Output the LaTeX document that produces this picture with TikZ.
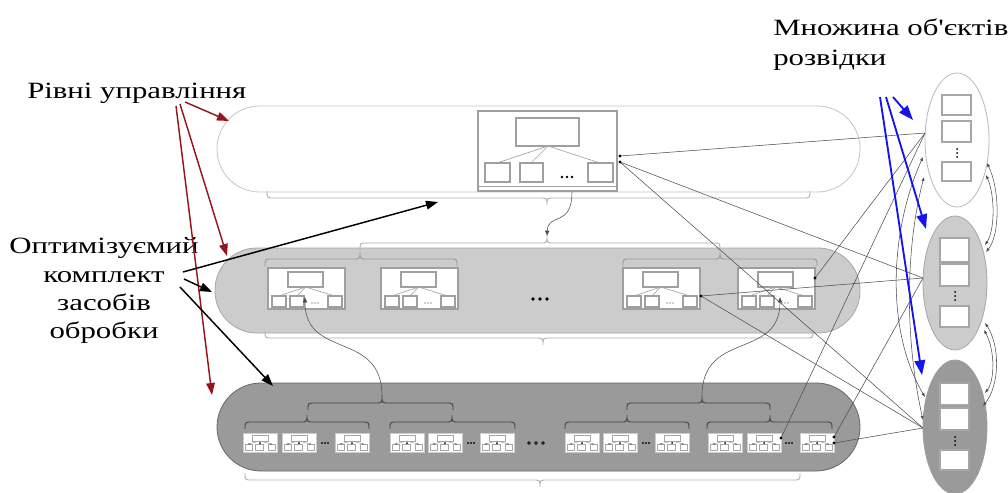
\documentclass[tikz,border=0pt]{standalone}
\usepackage{fontspec}
\setmainfont{Liberation Serif}
\newfontfamily\lblfont[FakeStretch=1.32]{Liberation Serif}
\usetikzlibrary{arrows.meta}
\definecolor{midfill}{HTML}{CCCCCC}
\definecolor{darkfill}{HTML}{9A9A9A}
\definecolor{arrred}{RGB}{150,22,28}
\definecolor{arrblue}{RGB}{20,20,235}
\tikzset{
  lbl/.style={font=\lblfont\fontsize{17.5}{21}\selectfont, inner sep=0pt},
  bandw/.style={draw=gray!45, line width=0.6pt, fill=white},
  bandm/.style={draw=gray!70, line width=0.6pt, fill=midfill},
  bandd/.style={draw=gray!80!black, line width=0.6pt, fill=darkfill},
  modframe/.style={draw=gray!75, line width=0.9pt, fill=white},
  inbox/.style={draw=gray!75, line width=0.9pt, fill=white},
  tree/.style={draw=gray!70, line width=0.5pt},
  brc/.style={draw=gray!65, line width=0.65pt},
  brcm/.style={draw=gray!80, line width=0.65pt},
  brcd/.style={draw=gray!50!black, line width=0.65pt},
  conn/.style={draw=gray!60!black, line width=0.4pt},
  tinytip/.style={{Latex[length=3pt,width=2.4pt]}-{Latex[length=3pt,width=2.4pt]}},
  curvtip/.style={-{Latex[length=4pt,width=3.5pt]}},
  redarr/.style={draw=arrred, line width=1.1pt, -{Triangle[length=9pt,width=6.5pt]}},
  blkarr/.style={draw=black, line width=1.1pt, -{Triangle[length=9pt,width=6.5pt]}},
  bluarr/.style={draw=arrblue, line width=1.4pt, -{Triangle[length=11pt,width=8pt]}},
  ellw/.style={draw=gray!55, line width=0.6pt, fill=white},
  ellm/.style={draw=gray!70, line width=0.6pt, fill=midfill},
  elld/.style={draw=gray!75, line width=0.6pt, fill=darkfill},
  ebox/.style={draw=gray!70, line width=0.9pt, fill=white},
  bmodframe/.style={draw=gray!40, line width=0.7pt, fill=white},
  bmodin/.style={draw=gray!70, line width=0.4pt},
}
% x1 x2 xm y s style
\newcommand\mybrace[6]{%
 \draw[#6] ({#1},{#4-(#5)*7}) .. controls ({#1},{#4}) .. ({#1+7},{#4}) -- ({#3-7},{#4})
  .. controls ({#3},{#4}) .. ({#3},{#4+(#5)*7}) .. controls ({#3},{#4}) .. ({#3+7},{#4})
  -- ({#2-7},{#4}) .. controls ({#2},{#4}) .. ({#2},{#4-(#5)*7});}
% middle module, top-left x y
\newcommand\midmod[2]{%
 \draw[modframe] (#1,#2) rectangle ++(77,41);
 \draw[inbox] ({#1+20},{#2+4}) rectangle ++(35,15);
 \draw[tree] ({#1+37.5},{#2+19}) -- ({#1+11},{#2+28});
 \draw[tree] ({#1+37.5},{#2+19}) -- ({#1+29},{#2+28});
 \draw[tree] ({#1+37.5},{#2+19}) -- ({#1+67},{#2+28});
 \draw[inbox] ({#1+4},{#2+28}) rectangle ++(14,11);
 \draw[inbox] ({#1+22},{#2+28}) rectangle ++(14,11);
 \draw[inbox] ({#1+60},{#2+28}) rectangle ++(14,11);
 \foreach \d in {44,47,50} \fill[gray!40!black] ({#1+\d},{#2+35}) circle (0.7);}
% bottom module, top-left x y
\newcommand\botmod[2]{%
 \draw[bmodframe] (#1,#2) rectangle ++(34,19);
 \draw[bmodin] ({#1+9},{#2+2}) rectangle ++(16,6);
 \draw[bmodin] ({#1+17},{#2+8}) -- ({#1+5},{#2+11});
 \draw[bmodin] ({#1+17},{#2+8}) -- ({#1+28},{#2+11});
 \draw[bmodin] ({#1+2},{#2+11}) rectangle ++(7,6);
 \draw[bmodin] ({#1+12},{#2+11}) rectangle ++(8,6);
 \draw[bmodin] ({#1+25},{#2+11}) rectangle ++(7,6);
 \fill[black] ({#1+17},{#2+10}) circle (1);
 \fill[black] ({#1+6},{#2+11}) circle (0.7);
 \fill[black] ({#1+28},{#2+11}) circle (0.7);}
\newcommand\tinydots[2]{\foreach \d in {-3,0,3} \fill[gray!40!black] ({#1+\d},{#2}) circle (0.8);}
\begin{document}
\begin{tikzpicture}[x=0.75pt,y=-0.75pt]
\useasboundingbox (0,0) rectangle (1008,493);

% ---------- bands ----------
\draw[bandw, rounded corners=32pt] (217,106) rectangle (860,192);
\draw[bandm, rounded corners=31.5pt] (215,248) rectangle (860,333);
\draw[bandd, rounded corners=33pt] (217,383) rectangle (860,471);

% ---------- braces ----------
\mybrace{267}{810}{547}{198}{1}{brc}
\mybrace{360}{720}{547}{243}{-1}{brc}
\mybrace{265}{457}{360}{259}{-1}{brcm}
\mybrace{623}{817}{720}{259}{-1}{brcm}
\mybrace{265}{813}{543}{338}{1}{brc}
\mybrace{308}{453}{382}{403}{-1}{brcd}
\mybrace{627}{770}{702}{403}{-1}{brcd}
\mybrace{245}{369}{307}{422}{-1}{brcd}
\mybrace{390}{515}{452}{422}{-1}{brcd}
\mybrace{565}{689}{627}{422}{-1}{brcd}
\mybrace{707}{832}{770}{422}{-1}{brcd}
\mybrace{245}{800}{540}{480}{1}{brc}

% ---------- top module ----------
\draw[modframe] (478,111) rectangle (617,191);
\draw[draw=gray!75, line width=0.6pt] (478,186) -- (617,186);
\draw[inbox] (516,118) rectangle (579,146);
\draw[tree] (548,146) -- (497,163);
\draw[tree] (548,146) -- (531,163);
\draw[tree] (548,146) -- (600,163);
\draw[inbox] (485,163) rectangle (510,182);
\draw[inbox] (520,163) rectangle (543,182);
\draw[inbox] (588,163) rectangle (613,182);
\foreach \d in {562,567,572} \fill[black] (\d,177) circle (1.4);

% ---------- middle modules ----------
\midmod{268}{268}
\midmod{381}{268}
\midmod{623}{268}
\midmod{738}{268}
\foreach \d in {533,540,547} \fill[black] (\d,299) circle (1.9);

% ---------- bottom modules ----------
\foreach \x in {243,282,335,390,428,480,565,603,655,708,747,800} \botmod{\x}{433}
\foreach \x in {325,471,646,789} \tinydots{\x}{443}
\foreach \d in {529,536,543} \fill[gray!30!black] (\d,443) circle (1.1);

% ---------- ellipses ----------
\draw[ellw] (957,140) ellipse [x radius=32, y radius=67];
\draw[ellm] (955,283) ellipse [x radius=32, y radius=67];
\draw[elld] (955,427) ellipse [x radius=32, y radius=67];
\draw[ebox] (942,95) rectangle (971,115);
\draw[ebox] (942,121) rectangle (971,142);
\draw[ebox] (942,162) rectangle (971,181);
\foreach \d in {149,153,157} \fill[black] (957,\d) circle (1);
\draw[ebox] (940,238) rectangle (969,262);
\draw[ebox] (940,264) rectangle (969,286);
\draw[ebox] (940,306) rectangle (969,327);
\foreach \d in {292,296,300} \fill[black] (955,\d) circle (1);
\draw[ebox] (940,383) rectangle (969,405);
\draw[ebox] (940,408) rectangle (969,430);
\draw[ebox] (940,450) rectangle (969,470);
\foreach \d in {437,441,445} \fill[black] (955,\d) circle (1);

% ---------- named points ----------
\coordinate (tmR1) at (620,156);
\coordinate (tmR2) at (620,162);
\coordinate (tmB) at (572,192);
\coordinate (mbT) at (547,236);
\coordinate (m1B) at (305,297);
\coordinate (m3R) at (701,296);
\coordinate (m4R) at (815,278);
\coordinate (m4B) at (780,297);
\coordinate (bp1) at (382,396);
\coordinate (bp2) at (702,396);
\coordinate (b11R) at (781,438);
\coordinate (b12a) at (834,437);
\coordinate (b12b) at (834,443);
\coordinate (e1L) at (925,133);
\coordinate (e2L) at (923,278);
\coordinate (e3L) at (923,428);
\coordinate (e1la) at (923,157);
\coordinate (e1lb) at (924,177);
\coordinate (e3la) at (925,397);
\coordinate (e3lb) at (923,420);
\coordinate (e1ra) at (987,163);
\coordinate (e1rb) at (986,175);
\coordinate (e2ra) at (985,245);
\coordinate (e2rb) at (986,252);
\coordinate (e2rc) at (985,323);
\coordinate (e2rd) at (984,330);
\coordinate (e3ra) at (985,393);
\coordinate (e3rb) at (983,406);

% ---------- connectors ----------
\draw[conn] (tmR1) -- (e1L);
\draw[conn] (tmR2) -- (e2L);
\draw[conn] (tmR2) -- (e3L);
\draw[conn] (m3R) -- (e2L);
\draw[conn] (m3R) -- (e3L);
\draw[conn] (m4R) -- (e1L);
\draw[conn] (b11R) -- (e1L);
\draw[conn] (b12a) -- (e2L);
\draw[conn] (b12b) -- (e3L);
\draw[conn, curvtip] (tmB) .. controls (572,228) and (548,212) .. (mbT);
\draw[conn, curvtip] (bp1) .. controls (382,330) and (305,360) .. (m1B);
\draw[conn, curvtip] (bp2) .. controls (702,330) and (780,360) .. (m4B);
\draw[conn, tinytip] (e1la) .. controls (890,230) and (885,330) .. (e3la);
\draw[conn, tinytip] (e1lb) .. controls (905,250) and (905,340) .. (e3lb);
\draw[conn, tinytip] (e1ra) .. controls (1000,190) and (1000,235) .. (e2rb);
\draw[conn, tinytip] (e1rb) .. controls (995,195) and (995,230) .. (e2ra);
\draw[conn, tinytip] (e2rc) .. controls (1000,345) and (1000,385) .. (e3rb);
\draw[conn, tinytip] (e2rd) .. controls (995,350) and (995,380) .. (e3ra);
\foreach \p in {tmR1,tmR2,m3R,m4R,b11R,b12a,b12b} \fill[black] (\p) circle (1.6);

% ---------- labels ----------
\node[lbl, anchor=base west] (lvl) at (27,98) {Рівні управління};
\node[lbl, anchor=base] (opt1) at (104,253) {Оптимізуємий};
\node[lbl, anchor=base] (opt2) at (104,282) {комплект};
\node[lbl, anchor=base] (opt3) at (104,310) {засобів};
\node[lbl, anchor=base] (opt4) at (104,338) {обробки};
\node[lbl, anchor=base west] (obj1) at (773,35) {Множина об'єктів};
\node[lbl, anchor=base west] (obj2) at (773,65) {розвідки};

% ---------- arrows from labels ----------
\coordinate (ra) at (185,102);
\coordinate (rb) at (180,104);
\coordinate (rc) at (176,106);
\coordinate (ka) at (183,272);
\coordinate (kb) at (184,279);
\coordinate (kc) at (180,287);
\coordinate (ba) at (893,97);
\coordinate (bb) at (886,97);
\coordinate (bc) at (880,97);
\draw[redarr] (ra) -- (229,121);
\draw[redarr] (rb) -- (227,256);
\draw[redarr] (rc) -- (212,395);
\draw[blkarr] (ka) -- (438,202);
\draw[blkarr] (kb) -- (212,292);
\draw[blkarr] (kc) -- (273,386);
\draw[bluarr] (ba) -- (913,120);
\draw[bluarr] (bb) -- (926,229);
\draw[bluarr] (bc) -- (922,375);
\end{tikzpicture}
\end{document}
